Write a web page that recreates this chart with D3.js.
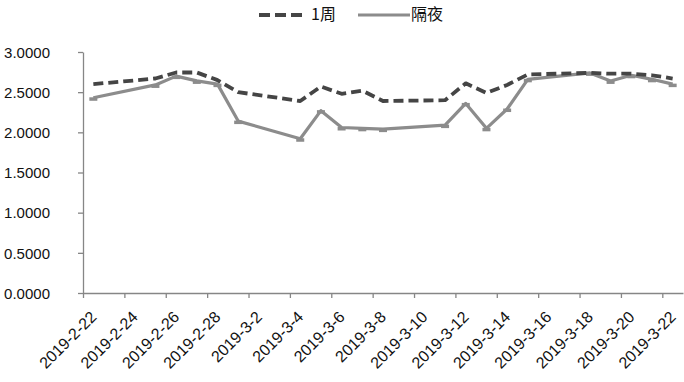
<!DOCTYPE html>
<html>
<head>
<meta charset="utf-8">
<script src="https://cdn.jsdelivr.net/npm/d3@7/dist/d3.min.js"></script>
<style>
  html, body { margin: 0; padding: 0; background: #fff; }
  svg { display: block; font-family: "Liberation Sans", Arial, sans-serif; }
</style>
</head>
<body>
<svg id="chart" width="684" height="382"></svg>
<script>
// ---- data ----
const dates = ["2019-02-22","2019-02-25","2019-02-26","2019-02-27","2019-02-28","2019-03-01",
  "2019-03-04","2019-03-05","2019-03-06","2019-03-07","2019-03-08",
  "2019-03-11","2019-03-12","2019-03-13","2019-03-14","2019-03-15",
  "2019-03-18","2019-03-19","2019-03-20","2019-03-21","2019-03-22"];
const week = [2.60, 2.67, 2.745, 2.745, 2.65, 2.50,
  2.39, 2.57, 2.48, 2.52, 2.39,
  2.40, 2.61, 2.49, 2.59, 2.72,
  2.74, 2.73, 2.73, 2.71, 2.67];
const overnight = [2.43, 2.59, 2.70, 2.64, 2.60, 2.14,
  1.92, 2.27, 2.06, 2.05, 2.04,
  2.09, 2.36, 2.05, 2.29, 2.66,
  2.74, 2.64, 2.71, 2.66, 2.60];
const tickDates = ["2019-02-22","2019-02-24","2019-02-26","2019-02-28","2019-03-02","2019-03-04",
  "2019-03-06","2019-03-08","2019-03-10","2019-03-12","2019-03-14","2019-03-16",
  "2019-03-18","2019-03-20","2019-03-22"];
const yTicks = [0, 0.5, 1.0, 1.5, 2.0, 2.5, 3.0];
const seriesNames = ["1周", "隔夜"];

// ---- layout ----
const svg = d3.select("#chart");
const mLeft = 83, mRight = 683, mTop = 52, mBottom = 293;
const parse = d3.utcParse("%Y-%m-%d");
const x = d3.scaleUtc()
  .domain([parse("2019-02-22"), parse("2019-03-23")])
  .range([mLeft, mRight]);
const y = d3.scaleLinear().domain([0, 3]).range([mBottom, mTop]);
const mid = d => d3.utcHour.offset(parse(d), 12);

const axisColor = "#868686";

// y axis
const gy = svg.append("g").attr("transform", `translate(${mLeft},0)`)
  .call(d3.axisLeft(y).tickValues(yTicks).tickFormat(d3.format(".4f")).tickSize(5).tickSizeOuter(0));
gy.select(".domain").attr("stroke", axisColor).attr("stroke-width", 1.3);
gy.selectAll(".tick line").attr("stroke", axisColor).attr("stroke-width", 1.3);
gy.selectAll(".tick text").attr("fill", "#111").attr("font-size", 15).attr("x", -33).attr("text-anchor", "end")
  .attr("dy", "0.35em");

// x axis
const fmt = d3.utcFormat("%Y-%-m-%-d");
const gx = svg.append("g").attr("transform", `translate(0,${mBottom})`)
  .call(d3.axisBottom(x).tickValues(tickDates.map(parse)).tickFormat(fmt).tickSize(5).tickSizeOuter(0));
gx.select(".domain").attr("stroke", axisColor).attr("stroke-width", 1.3);
gx.selectAll(".tick line").attr("stroke", axisColor).attr("stroke-width", 1.3);
gx.selectAll(".tick text")
  .attr("fill", "#111").attr("font-size", 16)
  .attr("text-anchor", "end")
  .attr("y", 0).attr("dy", 0)
  .attr("transform", "translate(14,25) rotate(-45)");

// lines
const lineW = d3.line().x((d, i) => x(mid(dates[i]))).y(d => y(d));
svg.append("path").datum(overnight)
  .attr("d", lineW).attr("fill", "none")
  .attr("stroke", "#8c8c8c").attr("stroke-width", 3.2).attr("stroke-linejoin", "round");
svg.append("g").selectAll("rect").data(overnight).join("rect")
  .attr("x", (d, i) => x(mid(dates[i])) - 4)
  .attr("y", d => y(d) - 0.5)
  .attr("width", 8).attr("height", 3.5)
  .attr("fill", "#8c8c8c");
svg.append("path").datum(week)
  .attr("d", lineW).attr("fill", "none")
  .attr("stroke", "#454545").attr("stroke-width", 3.8)
  .attr("stroke-dasharray", "10,5").attr("stroke-linejoin", "round");

// legend
const lg = svg.append("g");
lg.append("line").attr("x1", 259).attr("x2", 304).attr("y1", 15).attr("y2", 15)
  .attr("stroke", "#454545").attr("stroke-width", 3.8).attr("stroke-dasharray", "11,5");
lg.append("text").attr("x", 311).attr("y", 14).attr("dy", "0.35em").attr("font-size", 16).attr("fill", "#111")
  .attr("font-family", "'Noto Sans CJK SC', sans-serif").text(seriesNames[0]);
lg.append("line").attr("x1", 358).attr("x2", 410).attr("y1", 15).attr("y2", 15)
  .attr("stroke", "#8c8c8c").attr("stroke-width", 3.2);
lg.append("text").attr("x", 411).attr("y", 14).attr("dy", "0.35em").attr("font-size", 16).attr("fill", "#111")
  .attr("font-family", "'Noto Sans CJK SC', sans-serif").text(seriesNames[1]);
</script>
</body>
</html>
